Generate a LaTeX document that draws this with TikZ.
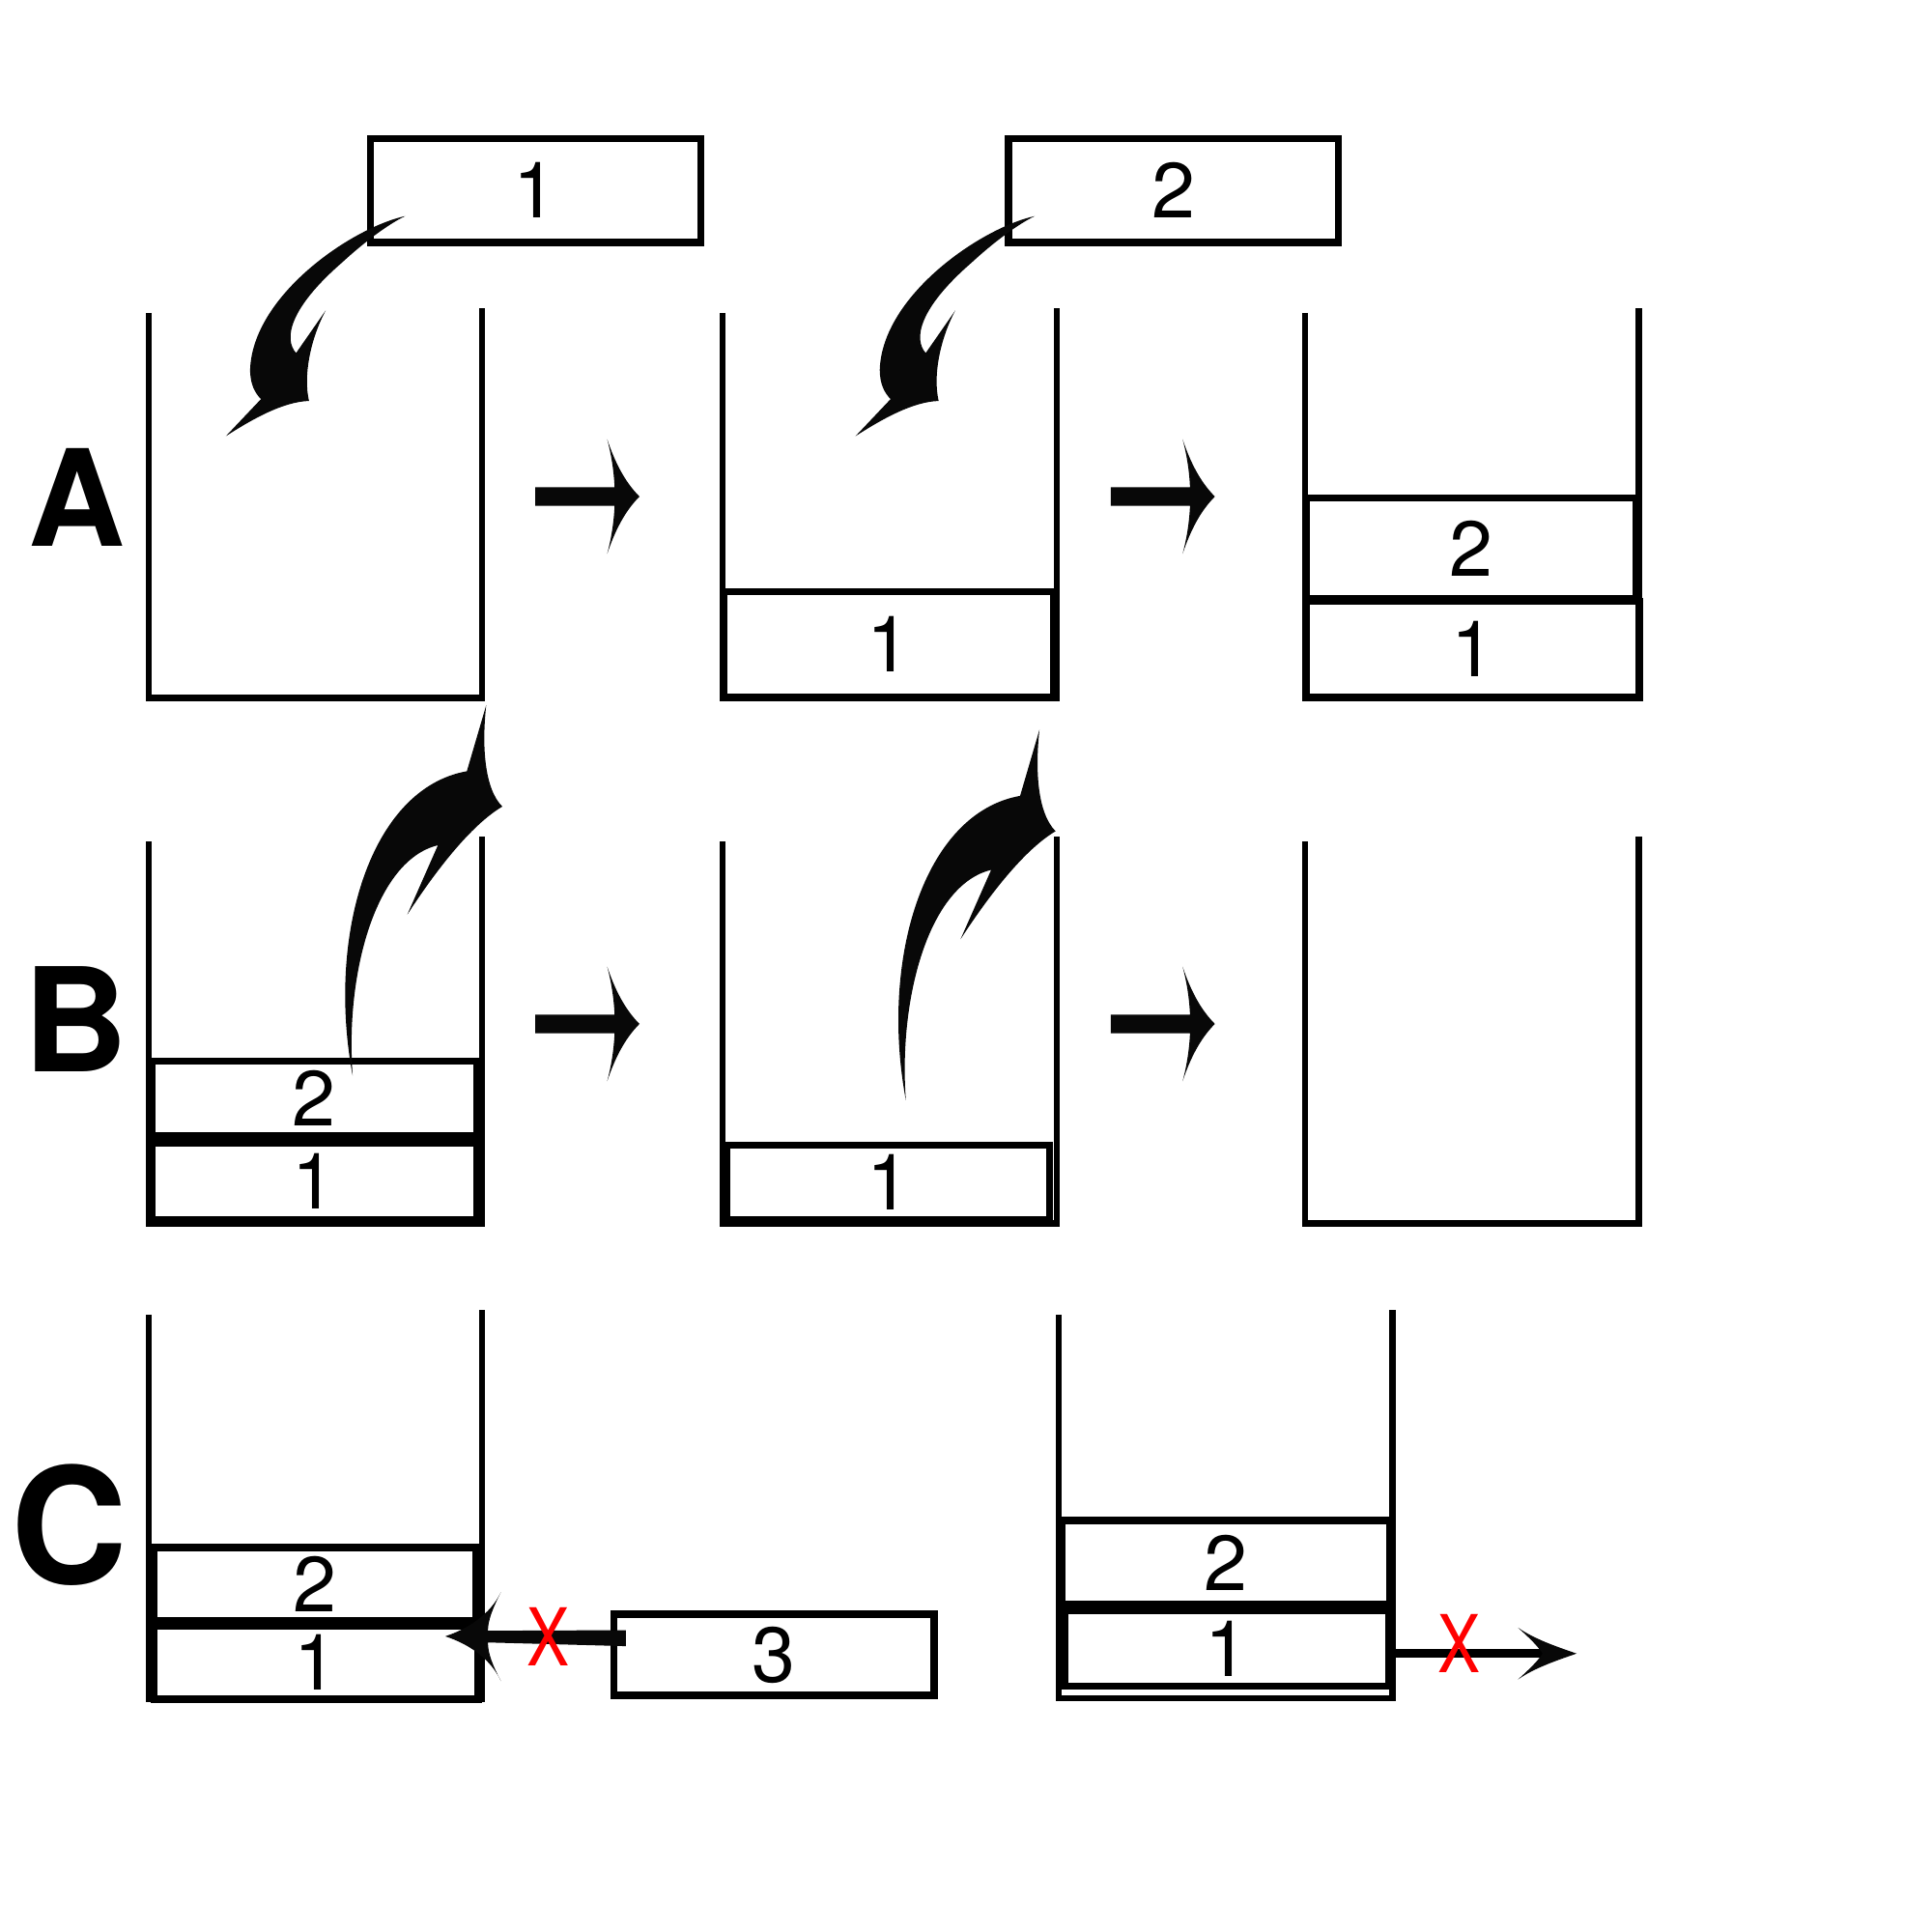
\documentclass[tikz,border=0pt]{standalone}
\usepackage{fontspec}
\setmainfont{TeX Gyre Heros}
\tikzset{
  wall/.style={line width=1.8pt, line join=miter},
  boxline/.style={line width=2.1pt},
  digit/.style={font=\fontsize{23}{23}\selectfont, inner sep=0pt},
  rowlabel/.style={font=\bfseries, inner sep=0pt},
  cross/.style={text=red, font=\fontsize{23.5}{24}\selectfont, inner sep=0pt},
  inkfill/.style={fill=black!97}
}
% container: xl, ytopL, xr, ytopR, ybottom
\newcommand{\binshape}[5]{\draw[wall] (#1,#2) -- (#1,#5) -- (#3,#5) -- (#3,#4);}
% item box: name, x1, y1, x2, y2, label
\newcommand{\itembox}[6]{\draw[boxline] (#2,#3) rectangle (#4,#5);
  \node[digit] (#1) at ({(#2+#4)/2},{(#3+#5)/2}) {#6};}
% straight fat arrow with tip at (#1,#2)
\newcommand{\fatarrowR}[2]{\fill[inkfill, shift={(#1,#2)}]
  (-84.5,-7.5) -- (-20.2,-7.5) .. controls (-21,-25) and (-24,-38) .. (-26.2,-46.5)
  .. controls (-20,-28) and (-12,-12) .. (0,0)
  .. controls (-12,12) and (-20,28) .. (-26.2,46.5)
  .. controls (-24,38) and (-21,25) .. (-20.2,7.5) -- (-84.5,7.5) -- cycle;}
% curved "push" arrow, shifted
\newcommand{\curlPush}[2]{\fill[inkfill, shift={(#1,#2)}]
  (328.8,175.4) .. controls (285,185) and (205,240) .. (203,300)
  .. controls (203,312) and (207,319) .. (211.8,323.9) -- (183.3,354)
  .. controls (205,340) and (230,326) .. (250.8,325.4)
  .. controls (246,305) and (252,275) .. (264.3,252) -- (240.3,286.5)
  .. controls (230,275) and (235,250) .. (277.8,212.9)
  .. controls (295,197) and (315,182) .. (328.8,175.4) -- cycle;}
% curved "pop" arrow, shifted
\newcommand{\curlPop}[2]{\fill[inkfill, shift={(#1,#2)}]
  (286.2,872.9) .. controls (265,760) and (300,640) .. (378.9,625.9) -- (394.6,572.3)
  .. controls (391,605) and (393,640) .. (407.7,654.6)
  .. controls (385,668) and (358,700) .. (330.6,742.2) -- (355.4,686.0)
  .. controls (305,698) and (280,790) .. (286.2,872.9) -- cycle;}
\begin{document}
\begin{tikzpicture}[x=0.012755cm, y=-0.012755cm]
\useasboundingbox (0,0) rectangle (1568,1568);
\fill[white] (0,0) rectangle (1568,1568);

% row labels
\node[rowlabel, font=\bfseries\fontsize{39.5}{40}\selectfont] (labA) at (62.5,404) {A};
\node[rowlabel, font=\bfseries\fontsize{42.5}{43}\selectfont] (labB) at (61.5,827.5) {B};
\node[rowlabel, font=\bfseries\fontsize{47.5}{48}\selectfont] (labC) at (56,1238) {C};

% ---------------- Row A ----------------
\binshape{120.7}{254}{391.4}{250}{566.5}
\binshape{586.5}{254}{857.5}{250}{566.5}
\binshape{1059}{254}{1330}{250}{566.5}

\itembox{topone}{300.6}{112.5}{568.6}{196.9}{1}
\itembox{toptwo}{818.6}{112.5}{1086}{196.9}{2}
\itembox{atwoone}{587.5}{480}{855}{566}{1}
\itembox{athreetwo}{1060}{404}{1328}{486}{2}
\itembox{athreeone}{1060}{488}{1331}{566}{1}

\curlPush{0}{0}
\curlPush{511}{0}
\fatarrowR{519}{403}
\fatarrowR{986}{403}

% ---------------- Row B ----------------
\binshape{120.7}{683}{391.4}{679}{993}
\binshape{586.5}{683}{857.5}{679}{993}
\binshape{1059}{683}{1330}{679}{993}

\itembox{bonetwo}{123}{861}{387}{922}{2}
\itembox{boneone}{123}{928}{387}{990}{1}
\itembox{btwoone}{590}{929.5}{852}{990}{1}

\curlPop{0}{0}
\curlPop{449}{20}
\fatarrowR{519}{831}
\fatarrowR{986}{831}

% ---------------- Row C ----------------
\binshape{120.7}{1067}{391.4}{1063}{1379}
\binshape{859}{1067}{1130}{1063}{1378.5}

\itembox{conetwo}{125}{1256}{386}{1315}{2}
\itembox{coneone}{125}{1320}{388}{1379}{1}
\itembox{cthree}{498}{1310}{758}{1376}{3}
\itembox{ctwotwo}{862}{1234}{1128}{1302}{2}
\itembox{ctwoone}{864.5}{1307.5}{1127}{1368.5}{1}

% push attempt into full stack (blocked)
\fill[inkfill] (361.3,1328) .. controls (380,1322) and (398,1310) .. (406.5,1292.3)
  .. controls (400,1305) and (396,1315) .. (396,1323.5) -- (508,1323) -- (508,1336)
  -- (396,1333) .. controls (396,1342) and (400,1352) .. (406.5,1364.2)
  .. controls (398,1346) and (380,1334) .. (361.3,1328) -- cycle;
\node[cross] (xone) at (445,1328) {\scalebox{0.8}[1]{X}};

% pop attempt from bottom (blocked)
\draw[line width=2.5pt] (1130,1342) -- (1254,1342);
\fill[inkfill] (1279.6,1342) .. controls (1262,1336) and (1245,1330) .. (1232,1321)
  .. controls (1242,1330) and (1248,1336) .. (1252,1342)
  .. controls (1248,1348) and (1242,1354) .. (1232,1363)
  .. controls (1245,1354) and (1262,1348) .. (1279.6,1342) -- cycle;
\node[cross] (xtwo) at (1184,1334) {\scalebox{0.8}[1]{X}};
\end{tikzpicture}
\end{document}
